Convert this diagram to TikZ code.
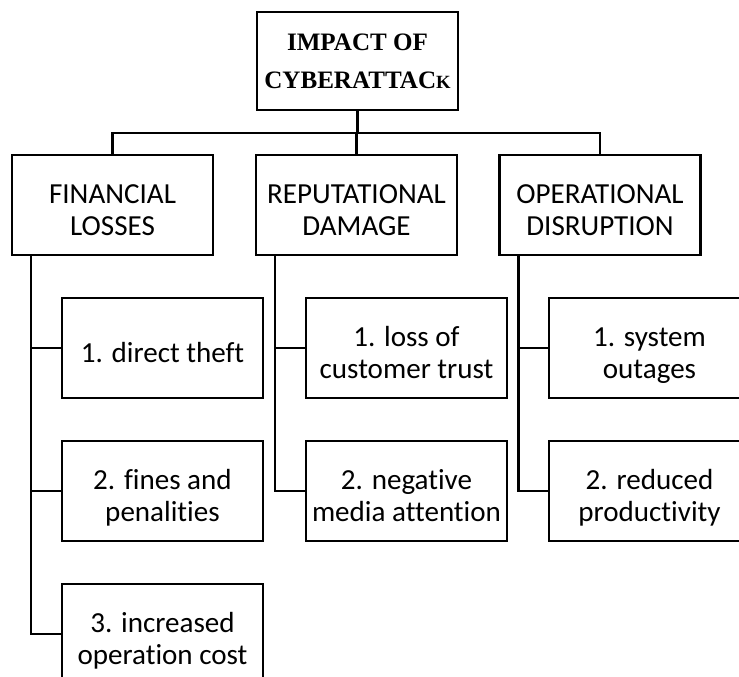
\documentclass[tikz,border=0pt]{standalone}
\usepackage{fontspec}
\setmainfont[Ligatures=NoCommon]{Carlito}
\newfontfamily\titlefont{Liberation Serif}
\usetikzlibrary{positioning}

% struts fixing the first baseline and the last depth inside a box
\newcommand*\tstrut{\rule{0pt}{27.25pt}}
\newcommand*\bstrut{\rule[-5.5pt]{0pt}{0pt}}

\tikzset{
  boxbase/.style={draw,line width=1.6pt,inner sep=0pt,align=center,
    minimum width=150.75pt},
  topbox/.style={boxbase,minimum height=73.5pt,
    font=\titlefont\bfseries\fontsize{18.8}{28.5}\selectfont},
  headbox/.style={boxbase,minimum height=75pt,
    font=\fontsize{21.8}{23.3}\selectfont},
  itembox/.style={headbox}, 
  link/.style={line width=1.6pt,line join=miter}
}

\begin{document}
\begin{tikzpicture}[x=0.75pt,y=-0.75pt]
\useasboundingbox (0,0) rectangle (739,677);
\clip (0,0) rectangle (739,677);

% root
\node[topbox] (impact) at (357.5,61) {IMPACT OF\\CYBERATTAC{\fontsize{14}{14}\selectfont K}};

% first level
\node[headbox] (fin) at (112.5,205) {\tstrut FINANCIAL\\LOSSES\bstrut};
\node[headbox] (rep) at (356.5,205) {\tstrut REPUTATIONAL\\DAMAGE\bstrut};
\node[headbox] (ops) at (600,205) {\tstrut OPERATIONAL\\DISRUPTION\bstrut};

% items
\node[itembox] (fin1) at (162.5,348) {\tstrut 1. direct theft\bstrut};
\node[itembox] (fin2) at (162.5,491) {\tstrut 2. fines and\\penalities\bstrut};
\node[itembox] (fin3) at (162.5,634) {\tstrut 3. increased\\operation cost\bstrut};

\node[itembox] (rep1) at (406.5,348) {\tstrut 1. loss of\\customer trust\bstrut};
\node[itembox] (rep2) at (406.5,491) {\tstrut 2. negative\\media attention\bstrut};

\node[itembox] (ops1) at (649.5,348) {\tstrut 1. system\\outages\bstrut};
\node[itembox] (ops2) at (649.5,491) {\tstrut 2. reduced\\productivity\bstrut};

% connectors
\coordinate (bus) at (357.5,133);
\draw[link] (impact.south) -- (bus);
\draw[link] (fin.north) |- (bus) -| (ops.north);
\draw[link] (rep.north) -- (rep.north |- bus);

\coordinate (fin-t) at ([xshift=15pt]fin.south west);
\coordinate (rep-t) at ([xshift=15pt]rep.south west);
\coordinate (ops-t) at ([xshift=15pt]ops.south west);

\draw[link] (fin-t) |- (fin3.west);
\draw[link] (fin-t |- fin1.west) -- (fin1.west);
\draw[link] (fin-t |- fin2.west) -- (fin2.west);

\draw[link] (rep-t) |- (rep2.west);
\draw[link] (rep-t |- rep1.west) -- (rep1.west);

\draw[link] (ops-t) |- (ops2.west);
\draw[link] (ops-t |- ops1.west) -- (ops1.west);
\end{tikzpicture}
\end{document}
